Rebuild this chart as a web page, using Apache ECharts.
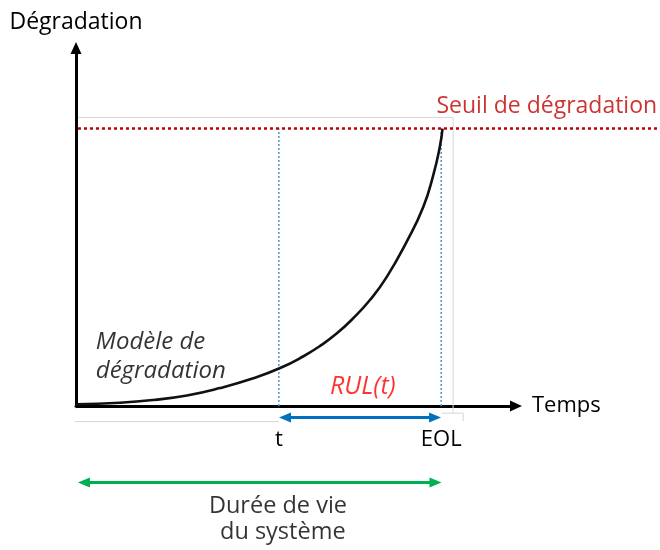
<!DOCTYPE html>
<html><head><meta charset="utf-8">
<script src="https://cdn.jsdelivr.net/npm/echarts@6/dist/echarts.min.js"></script>
<style>html,body{margin:0;padding:0;background:#fff}#c{width:660px;height:550px}</style>
</head><body><div id="c"></div>
<script>
// ---- data (time units 0..100, degradation units 0..100) ----
const curveTime        = [0, 10.0, 17.6, 25.2, 32.7, 40.3, 46.4, 51.7, 55.5, 59.3, 63.0, 66.8, 70.6, 75.2, 78.9, 81.2, 82.7, 83.3];
const curveDegradation = [0.5, 0.92, 1.68, 2.93, 5.0, 7.74, 10.6, 13.9, 16.8, 20.3, 24.5, 29.6, 36.0, 46.0, 55.5, 64.5, 72.5, 77.5];
const tValue = 46.1;
const eolValue = 83.0;
const thresholdValue = 77.5;
const tickLabels = ['t', 'EOL'];
const axisNames = ['Temps', 'Dégradation'];
const thresholdLabel = 'Seuil de dégradation';
const rulLabel = 'RUL(t)';
const modelLabel = ['Modèle de', 'dégradation'];
const lifeLabel = ['Durée de vie', 'du système'];

const FONT = '"Open Sans", sans-serif';
const INK = '#000';
const chart = echarts.init(document.getElementById('c'), null, {renderer: 'canvas'});

function txt(x, y, text, style, pos) {
  return {value: [x, y], name: text,
    label: Object.assign({show: true, formatter: '{b}', position: pos || 'inside', distance: 0,
      fontFamily: FONT, fontSize: 22, color: INK}, style)};
}
function seg(pts, color, width, type, z, gi) {
  return {type: 'line', data: pts, clip: false, showSymbol: false, silent: true, z: z || 2,
    xAxisIndex: gi || 0, yAxisIndex: gi || 0,
    lineStyle: {color: color, width: width, type: type || 'solid'}, animation: false};
}
function arrow(x0, x1, y, color, size) {
  return {type: 'line', clip: false, silent: true, z: 4, animation: false,
    symbol: 'triangle', symbolSize: size, showSymbol: true, showAllSymbol: true,
    itemStyle: {color: color}, lineStyle: {color: color, width: 3},
    data: [{value: [x0, y], symbolRotate: 90}, {value: [x1, y], symbolRotate: -90}]};
}

const grey = '#d6d6d6';
// second (hidden) grid with the same scale, spanning to the right edge, for the threshold line
const wideMax = (660 - 76) / 4.4;
const option = {
  animation: false,
  backgroundColor: '#fff',
  grid: [
    {left: 76, top: 48, right: 144, bottom: 144},
    {left: 76, top: 48, right: 0, bottom: 144}
  ],
  xAxis: [{
    type: 'value', min: 0, max: 100,
    axisLine: {show: true, symbol: ['none', 'triangle'], symbolSize: [11, 12], lineStyle: {color: '#000', width: 3}},
    axisTick: {show: false}, splitLine: {show: false},
    axisLabel: {customValues: [tValue, eolValue],
      formatter: v => Math.abs(v - tValue) < 0.01 ? tickLabels[0] : tickLabels[1],
      margin: 22, fontFamily: FONT, fontSize: 22, color: INK, lineHeight: 24},
    name: axisNames[0], nameLocation: 'end', nameGap: 16,
    nameTextStyle: {fontFamily: FONT, fontSize: 22, color: INK, verticalAlign: 'middle'}
  }, {
    gridIndex: 1, type: 'value', min: 0, max: wideMax, show: false
  }],
  yAxis: [{
    type: 'value', min: 0, max: 100,
    axisLine: {show: true, symbol: ['none', 'triangle'], symbolSize: [11, 12], lineStyle: {color: '#000', width: 3}},
    axisTick: {show: false}, splitLine: {show: false}, axisLabel: {show: false},
    name: axisNames[1], nameLocation: 'end', nameGap: 14,
    nameTextStyle: {fontFamily: FONT, fontSize: 23, color: INK}
  }, {
    gridIndex: 1, type: 'value', min: 0, max: 100, show: false
  }],
  series: [
    // faint frame lines
    seg([[0.45, 80.6], [85.7, 80.6], [85.7, -2.0]], grey, 1, 'solid', 1),
    seg([[83.1, -2.0], [88.0, -2.0], [88.0, -4.2]], grey, 1, 'solid', 1),
    seg([[0, -0.56], [-1.6, -0.56], [-1.6, -4.36], [tValue, -4.36]], grey, 1, 'solid', 1),
    // threshold
    seg([[0.45, thresholdValue], [wideMax, thresholdValue]], '#c00000', 2.6, [3, 3], 3, 1),
    // verticals at t and EOL
    seg([[tValue, 0], [tValue, thresholdValue]], '#5b9bd5', 1.6, [2, 2], 2),
    seg([[eolValue, 0], [eolValue, thresholdValue]], '#5b9bd5', 1.6, [2, 2], 2),
    // degradation curve
    {type: 'line', data: curveTime.map((t, i) => [t, curveDegradation[i]]), smooth: 0.5,
      showSymbol: false, clip: false, z: 5, lineStyle: {color: '#111', width: 2.6}},
    // arrows
    arrow(tValue + 1.4, eolValue - 1.4, -3.2, '#0070c0', [10, 12]),
    arrow(1.8, 81.7, -21.4, '#00b050', [10, 12]),
    // texts
    {type: 'scatter', clip: false, symbolSize: 0, silent: true, z: 6, data: [
      txt(107.0, 83.8, thresholdLabel, {color: '#c00000', fontSize: 23}),
      txt(65.2, 5.3, rulLabel, {color: '#ff0000', fontStyle: 'italic', fontSize: 25}),
      txt(4.5, 17.9, modelLabel[0], {fontStyle: 'italic', fontSize: 24, align: 'left'}, 'right'),
      txt(4.5, 9.8, modelLabel[1], {fontStyle: 'italic', fontSize: 24, align: 'left'}, 'right'),
      txt(45.9, -27.9, lifeLabel[0], {fontSize: 23.5}),
      txt(47.0, -35.2, lifeLabel[1], {fontSize: 23.5})
    ]}
  ]
};
chart.setOption(option);
</script></body></html>
